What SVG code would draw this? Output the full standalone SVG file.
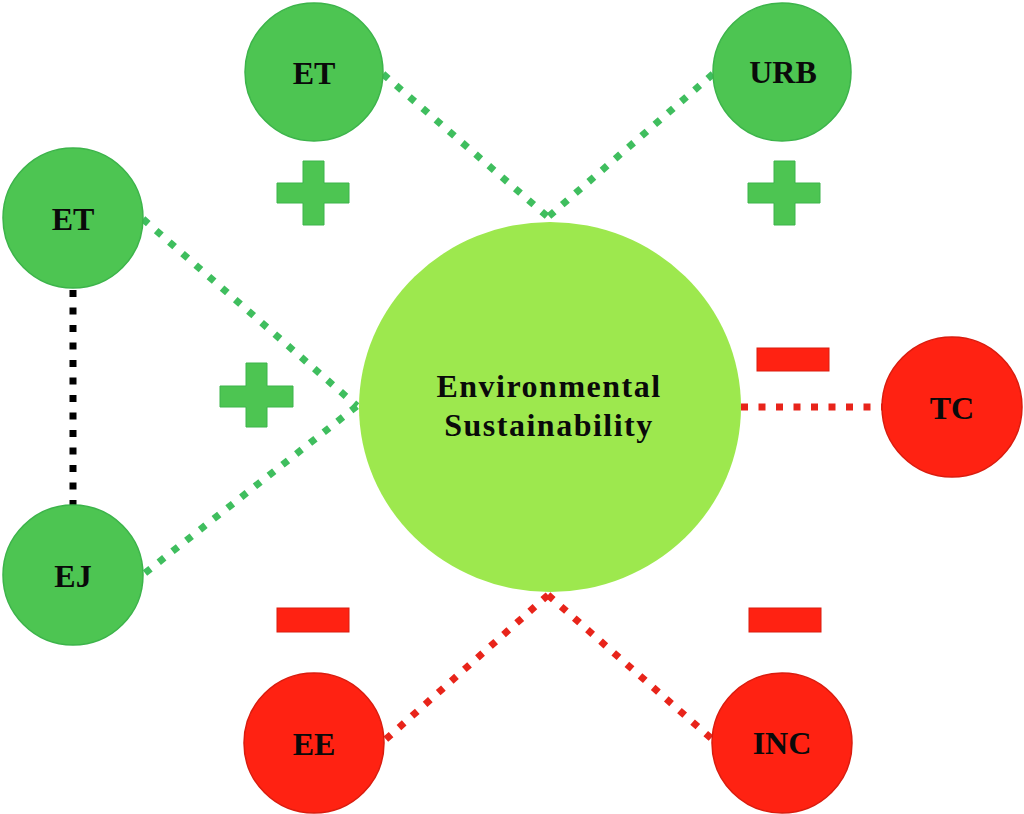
<svg xmlns="http://www.w3.org/2000/svg" width="1024" height="814" viewBox="0 0 1024 814">
<style>
.g{fill:#4DC552;stroke:#3CB44A;stroke-width:1.5}
.r{fill:#FF2212;stroke:#DA1C0E;stroke-width:1.5}
.c{fill:#9DE84E}
.t{font-family:"Liberation Serif","Times New Roman",serif;font-weight:bold;font-size:32px;fill:#0a0a0a;text-anchor:middle}
.dg{stroke:#3FBE5E;stroke-width:7;stroke-dasharray:7 10.5;fill:none}
.dr{stroke:#E8241A;stroke-width:7;stroke-dasharray:7 10.5;fill:none}
.dk{stroke:#000;stroke-width:7;stroke-dasharray:7 10.5;fill:none}
.plus{fill:#4DC552;stroke:#3CB44A;stroke-width:1}
.minus{fill:#FF2212;stroke:#DA1C0E;stroke-width:1}
</style>
<rect width="1024" height="814" fill="#fff"/>
<g id="connectors">
<line class="dg" x1="383" y1="74" x2="548" y2="217"/>
<line class="dg" x1="713" y1="74" x2="548" y2="217"/>
<line class="dg" x1="143" y1="219" x2="357" y2="406"/>
<line class="dg" x1="145" y1="573" x2="357" y2="406"/>
<line class="dk" x1="73" y1="290" x2="73" y2="505"/>
<line class="dr" x1="741" y1="407" x2="883" y2="407"/>
<line class="dr" x1="548" y1="595" x2="385" y2="740"/>
<line class="dr" x1="548" y1="595" x2="713" y2="740"/>
</g>
<g id="center">
<ellipse class="c" cx="550" cy="407" rx="191" ry="185"/>
<text class="t" x="549" y="397" letter-spacing="1.5">Environmental</text>
<text class="t" x="549" y="436" letter-spacing="1.5">Sustainability</text>
</g>
<g id="et-top"><circle class="g" cx="314" cy="72" r="69"/><text class="t" x="314" y="84">ET</text></g>
<g id="urb"><circle class="g" cx="782" cy="72" r="69"/><text class="t" x="783" y="83" font-size="29">URB</text></g>
<g id="et-left"><circle class="g" cx="73" cy="218" r="70"/><text class="t" x="73" y="230">ET</text></g>
<g id="ej"><circle class="g" cx="73" cy="575" r="70"/><text class="t" x="73" y="587">EJ</text></g>
<g id="tc"><circle class="r" cx="952" cy="407" r="70"/><text class="t" x="952" y="419">TC</text></g>
<g id="ee"><circle class="r" cx="314" cy="743" r="70"/><text class="t" x="314" y="755">EE</text></g>
<g id="inc"><circle class="r" cx="782" cy="743" r="70"/><text class="t" x="782" y="754">INC</text></g>
<g id="signs">
<path class="plus" d="M303 161h21v22h25v20h-25v22h-21v-22h-26v-20h26z"/>
<path class="plus" d="M774 161h21v22h25v20h-25v22h-21v-22h-26v-20h26z"/>
<path class="plus" d="M246 363h21v23h26v21h-26v20h-21v-20h-26v-21h26z"/>
<rect class="minus" x="757" y="348" width="72" height="23"/>
<rect class="minus" x="277" y="608" width="72" height="24"/>
<rect class="minus" x="749" y="608" width="72" height="24"/>
</g>
</svg>
